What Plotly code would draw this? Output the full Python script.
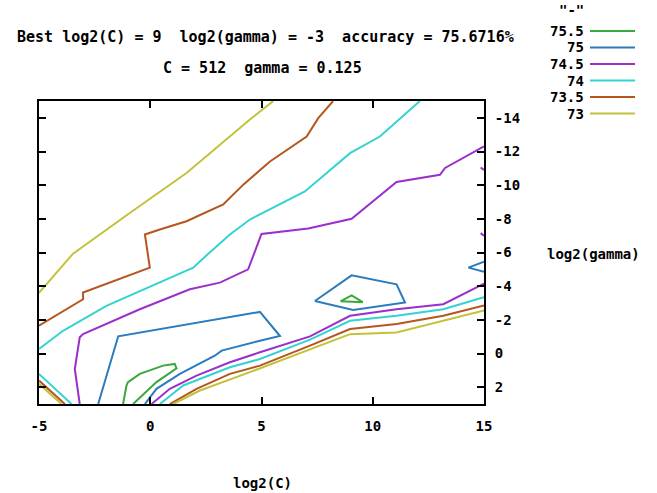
import plotly.graph_objects as go

# ---------------- data (contour lines of CV accuracy) ----------------
levels = ["75.5", "75", "74.5", "74", "73.5", "73"]
colors = ["#3aa83a", "#2b7bbf", "#9b2fc9", "#35d2d2", "#b5561e", "#c2c23a"]

# level 73 (yellow)
c73_upper_x = [-5, -3.47, -0.92, 1.63, 4.48, 5.53]
c73_upper_y = [-3.6, -5.93, -8.35, -10.72, -13.9, -15]
c73_lower_x = [1.03, 2.23, 4.48, 7.18, 8.98, 11.07, 13.17, 15]
c73_lower_y = [3, 2.2, 1.11, -0.27, -1.15, -1.25, -1.94, -2.55]
c73_corner_x = [-5, -3.99]
c73_corner_y = [1.8, 3]

# level 73.5 (brown)
c735_upper_x = [-5, -3.02, -3.02, -0.02, -0.24, 0.43, 1.63, 3.28, 4.18, 4.93, 5.38, 7.03, 7.55, 8.22]
c735_upper_y = [-1.65, -3.22, -3.62, -5.1, -7.07, -7.37, -7.86, -8.85, -10.03, -10.86, -11.41, -12.89, -13.98, -15]
c735_lower_x = [0.88, 2.08, 3.58, 4.93, 7.18, 8.98, 11.07, 13.17, 15]
c735_lower_y = [3, 2.1, 1.21, 0.72, -0.47, -1.45, -1.75, -2.24, -2.85]
c735_corner_x = [-5, -3.84]
c735_corner_y = [1.61, 3]

# level 74 (cyan)
c74_upper_x = [-5, -3.92, -1.97, 1.93, 2.61, 3.58, 4.48, 5.83, 6.95, 8.98, 10.32, 12.12]
c74_upper_y = [-0.27, -1.35, -2.83, -5.1, -5.93, -7.07, -7.96, -8.85, -9.63, -11.9, -12.89, -15]
c74_lower_x = [0.43, 1.48, 3.58, 4.93, 7.18, 8.98, 11.07, 13.17, 15]
c74_lower_y = [3, 1.9, 0.82, 0.33, -0.82, -1.94, -2.24, -2.63, -3.35]
c74_corner_x = [-5, -3.54]
c74_corner_y = [1.21, 3]

# level 74.5 (purple)
c745_upper_x = [-3.17, -3.31, -3.39, -3.17, -3.02, -0.47, 1.78, 3.13, 4.4, 5.0, 7.1, 9.05, 11.07, 13.02, 13.25, 15]
c745_upper_y = [3, 1.51, 0.92, -0.96, -1.15, -2.63, -3.82, -4.21, -5.0, -7.1, -7.43, -8.0, -10.19, -10.62, -11.02, -12.3]
c745_lower_x = [0.06, 0.88, 2.08, 3.58, 4.93, 7.18, 8.98, 11.07, 13.17, 15]
c745_lower_y = [3, 2.1, 1.31, 0.52, -0.07, -1.02, -2.24, -2.63, -2.93, -4.15]
c745_edge1_x = [14.85, 15]
c745_edge1_y = [-7.15, -7.0]
c745_edge2_x = [14.85, 15]
c745_edge2_y = [-11.05, -10.9]

# level 75 (blue)
c75_main_x = [-2.34, -1.44, 4.93, 5.83, 4.93, 3.21, 2.9, 1.33, 0.28, -0.24]
c75_main_y = [3, -1.02, -2.47, -1.04, -0.76, -0.17, 0.13, 1.21, 2.1, 3]
c75_loop_x = [7.4, 9.05, 11.07, 11.45, 9.12, 7.4]
c75_loop_y = [-3.12, -4.64, -4.11, -3.03, -2.59, -3.12]
c75_edge_x = [15, 14.3, 15]
c75_edge_y = [-5.45, -5.1, -4.85]

# level 75.5 (green)
c755_loop_x = [-1.22, -1.07, -1.0, -0.47, 0.58, 1.1, 1.18, 0.28, -0.77]
c755_loop_y = [3, 1.9, 1.7, 1.21, 0.72, 0.62, 0.88, 1.7, 3]
c755_tri_x = [8.55, 9.05, 9.55, 8.55]
c755_tri_y = [-3.1, -3.45, -3.05, -3.1]

segments = {
    "75.5": [(c755_loop_x, c755_loop_y), (c755_tri_x, c755_tri_y)],
    "75": [(c75_main_x, c75_main_y), (c75_loop_x, c75_loop_y), (c75_edge_x, c75_edge_y)],
    "74.5": [(c745_upper_x, c745_upper_y), (c745_lower_x, c745_lower_y),
             (c745_edge1_x, c745_edge1_y), (c745_edge2_x, c745_edge2_y)],
    "74": [(c74_upper_x, c74_upper_y), (c74_lower_x, c74_lower_y), (c74_corner_x, c74_corner_y)],
    "73.5": [(c735_upper_x, c735_upper_y), (c735_lower_x, c735_lower_y), (c735_corner_x, c735_corner_y)],
    "73": [(c73_upper_x, c73_upper_y), (c73_lower_x, c73_lower_y), (c73_corner_x, c73_corner_y)],
}

x_ticks = [-5, 0, 5, 10, 15]
y_ticks = [-14, -12, -10, -8, -6, -4, -2, 0, 2]

title1 = "Best log2(C) = 9  log2(gamma) = -3  accuracy = 75.6716%"
title2 = "C = 512  gamma = 0.125"

# ---------------- figure ----------------
W, H = 657, 493
L, R, T, B = 39, 484, 101, 404
FONT = dict(family="DejaVu Sans Mono", size=14, color="black", weight="bold")
FONT_T = dict(FONT, size=15)

def px(xp):
    return (xp - L) / (R - L)

def py(yp):
    return (B - yp) / (B - T)

fig = go.Figure()
for lev, col in zip(levels, colors):
    for sx, sy in segments[lev]:
        fig.add_trace(go.Scatter(x=sx, y=sy, mode="lines",
                                 line=dict(color=col, width=2),
                                 showlegend=False, hoverinfo="skip"))

annotations = [
    dict(text=title1, x=px(265), y=py(37), font=FONT_T),
    dict(text=title2, x=px(262), y=py(68), font=FONT_T),
    dict(text="log2(gamma)", x=px(545), y=py(254), xanchor="left"),
    dict(text="log2(C)", x=px(262), y=py(483)),
    dict(text='"-"', x=px(571), y=py(10)),
]
shapes = []
leg_y = [31, 47.5, 64, 80.5, 97, 113.5]
for lev, col, ly in zip(levels, colors, leg_y):
    annotations.append(dict(text=lev, x=px(586), y=py(ly), xanchor="right"))
    shapes.append(dict(type="line", xref="paper", yref="paper",
                       x0=px(590), x1=px(635), y0=py(ly), y1=py(ly),
                       line=dict(color=col, width=2)))
for a in annotations:
    a.setdefault("xanchor", "center")
    a.setdefault("font", FONT)
    a.update(xref="paper", yref="paper", yanchor="middle", showarrow=False)

fig.update_layout(
    width=W, height=H,
    margin=dict(l=L, r=W - R, t=T, b=H - B),
    paper_bgcolor="white", plot_bgcolor="white",
    font=FONT,
    annotations=annotations, shapes=shapes,
    showlegend=False,
)
fig.update_xaxes(range=[-5, 15], tickvals=x_ticks, ticktext=[str(v) for v in x_ticks],
                 ticks="inside", ticklen=7, tickwidth=2, tickcolor="black",
                 showline=True, linewidth=2, linecolor="black", mirror="allticks",
                 showgrid=False, zeroline=False, tickfont=FONT, ticklabelstandoff=8)
fig.update_yaxes(range=[3, -15], tickvals=y_ticks, ticktext=[str(v) for v in y_ticks],
                 side="right",
                 ticks="inside", ticklen=7, tickwidth=2, tickcolor="black",
                 showline=True, linewidth=2, linecolor="black", mirror="allticks",
                 showgrid=False, zeroline=False, tickfont=FONT, ticklabelstandoff=6)

fig.write_html("out.html", config={"displayModeBar": False},
               post_script="document.body.style.margin='0';document.body.style.overflow='hidden';")
